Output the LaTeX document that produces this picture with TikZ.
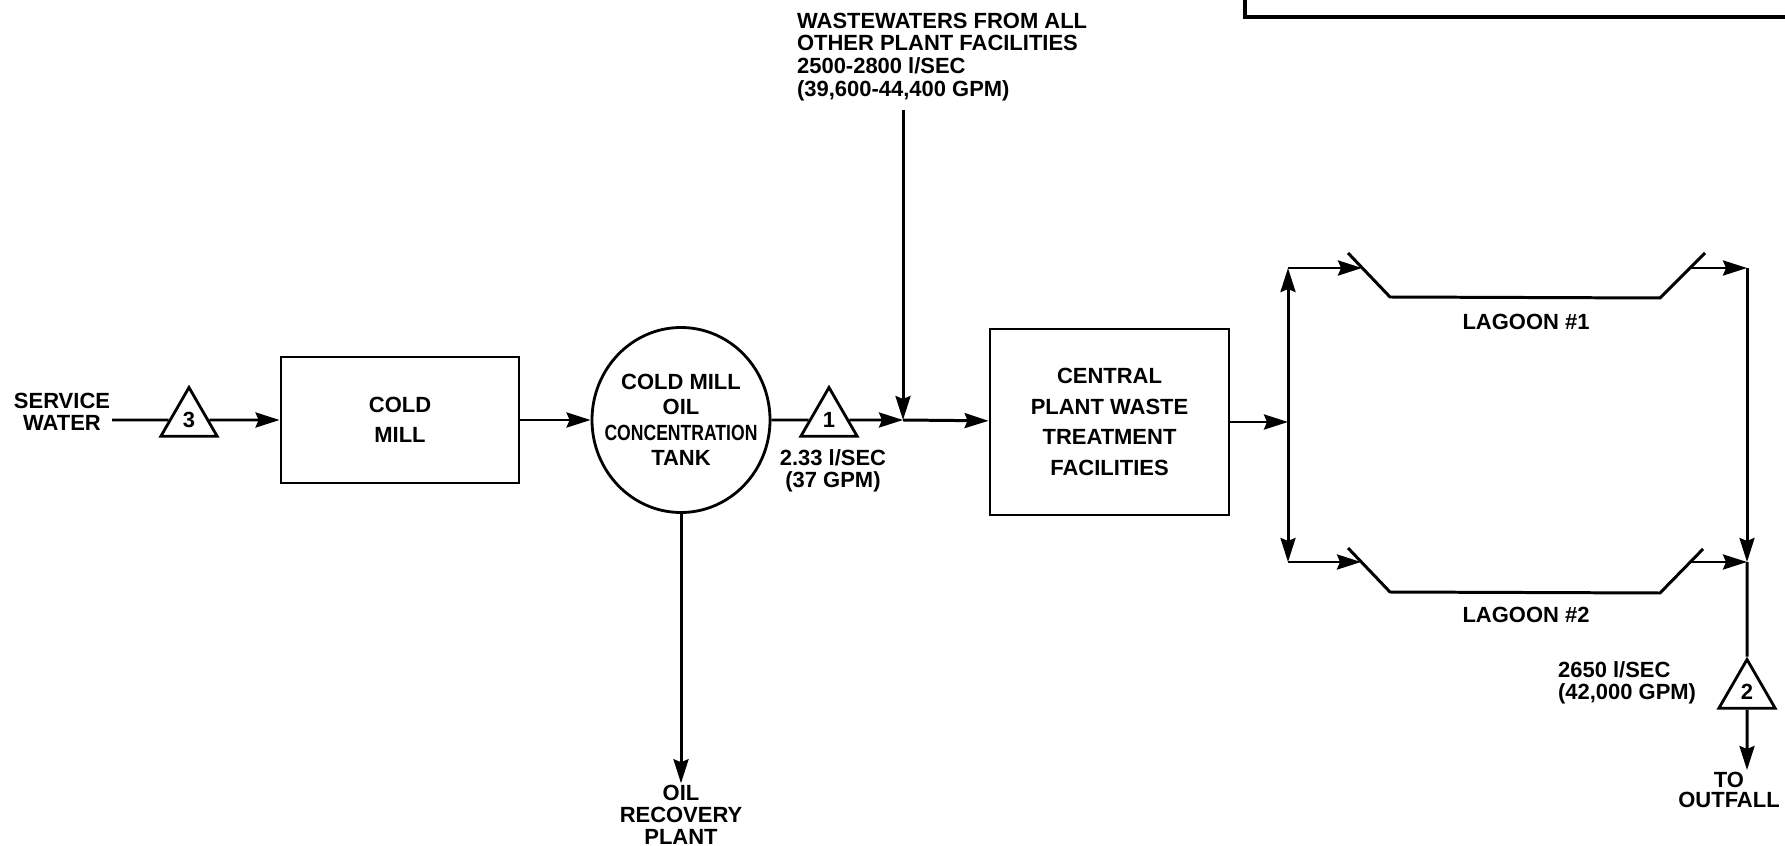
\documentclass[tikz,border=0pt]{standalone}
\usepackage{fontspec}
\setmainfont{Liberation Sans}
\usepackage{graphicx}
\usetikzlibrary{positioning,arrows.meta,shapes.geometric}
\newcommand{\flowfont}{\fontsize{12.5}{12.5}\selectfont\bfseries}

\begin{document}
\begin{tikzpicture}[x=0.2mm,y=-0.2mm,
  box/.style={rectangle,draw,line width=1.6pt,align=center,font=\flowfont},
  tankbox/.style={ellipse,draw,line width=1.6pt,align=center,font=\flowfont,
                  inner xsep=-4.5mm,inner ysep=0pt},
  gauge/.style={regular polygon,regular polygon sides=3,draw,line width=1.6pt,
                minimum size=13mm,inner sep=0pt,font=\flowfont},
  lbl/.style={align=center,font=\flowfont,inner sep=1pt},
  pipe/.style={line width=1.7pt},
  arr/.style={pipe,-{Stealth[length=4.8mm,width=3mm,inset=0.6mm]}}
]
\useasboundingbox (0,0) rectangle (1785,846);

% main line
\node[lbl] (sw) at (62,412) {SERVICE\\WATER};
\node[gauge] (t3) at (189,420) {3};
\node[box,minimum width=47.6mm,minimum height=25.2mm] (coldmill) at (400,420) {COLD\\[4.5pt]MILL};
\node[tankbox,minimum width=35.6mm,minimum height=37mm] (tank) at (681,420)
  {COLD MILL\\[2pt]OIL\\[2pt]\scalebox{0.8}[1]{CONCENTRATION}\\[2pt]TANK};
\node[gauge] (t1) at (829,420) {1};
\node[lbl] (t1lbl) at (833,471) {2.33 l/SEC\\(37 GPM)};
\coordinate (junc) at (903,420);
\node[box,minimum width=47.8mm,minimum height=37.2mm] (cpwt) at (1109.5,422)
  {CENTRAL\\[5pt]PLANT WASTE\\[5pt]TREATMENT\\[5pt]FACILITIES};
\node[lbl,align=left,anchor=west] (ww) at (795,57)
  {WASTEWATERS FROM ALL\\[0.5pt]OTHER PLANT FACILITIES\\[0.5pt]2500-2800 l/SEC\\[0.5pt](39,600-44,400 GPM)};
\coordinate (wwin) at (903,110);
\node[lbl] (oil) at (681,815) {OIL\\RECOVERY\\PLANT};

% lagoons
\coordinate (bin) at (1288,422);
\coordinate (bt) at (1288,268);
\coordinate (bb) at (1288,562);
\coordinate (l1in) at (1362,268);
\coordinate (l2in) at (1361,562);
\coordinate (l1out) at (1690,268);
\coordinate (l2out) at (1690,562);
\coordinate (rt) at (1747,268);
\coordinate (rb) at (1747,562);
\draw[pipe] (1348,253) -- (1390,297) -- (1660,298) -- (1705,253);
\draw[pipe] (1348,548) -- (1390,592) -- (1660,593) -- (1703,549);
\node[lbl] (lag1) at (1526,322) {LAGOON \#1};
\node[lbl] (lag2) at (1526,615) {LAGOON \#2};
\node[gauge] (t2) at (1747,692) {2};
\node[lbl,align=left,anchor=west] (t2lbl) at (1556,683) {2650 l/SEC\\(42,000 GPM)};
\node[lbl] (outfall) at (1729,790) {TO\\[-1pt]OUTFALL};

% partial box top right
\draw[line width=1.8pt] (1245,-5) |- (1800,17);

% connectors
\draw[pipe] (sw.east |- t3) -- (t3);
\draw[arr] (t3) -- (coldmill);
\draw[arr] (coldmill) -- (tank);
\draw[pipe] (tank) -- (t1);
\draw[arr] (t1) -- (junc);
\draw[arr] (wwin) -- (junc);
\draw[arr] (junc) -- (cpwt);
\draw[arr] (tank) -- (tank |- oil.north);
\draw[arr] (cpwt.east |- bin) -- (bin);
\draw[arr] (bin) -- (bt);
\draw[arr] (bin) -- (bb);
\draw[arr] (bt) -- (l1in);
\draw[arr] (bb) -- (l2in);
\draw[arr] (l1out) -- (rt);
\draw[arr] (l2out) -- (rb);
\draw[arr] (rt) -- (rb);
\draw[pipe] (rb) -- (t2);
\draw[arr] (t2) -- (t2 |- outfall.north);
\end{tikzpicture}
\end{document}
